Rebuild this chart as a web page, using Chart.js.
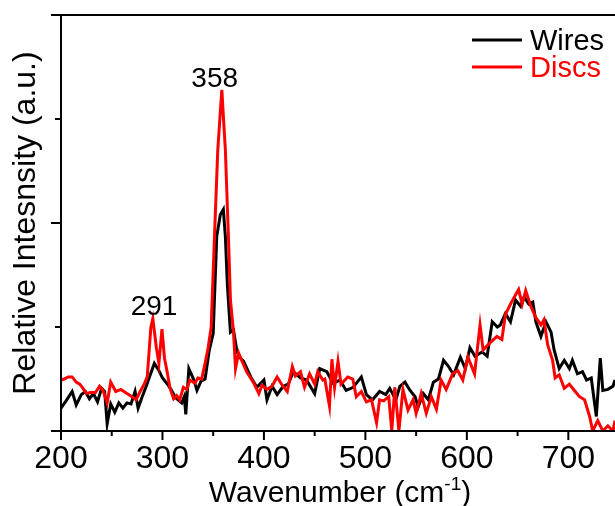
<!DOCTYPE html>
<html>
<head>
<meta charset="utf-8">
<script src="https://cdn.jsdelivr.net/npm/chart.js@4.4.0/dist/chart.umd.min.js"></script>
<style>
  html, body { margin: 0; padding: 0; background: #fff; }
  #chart { display: block; }
</style>
</head>
<body>
<canvas id="chart" width="615" height="506"></canvas>
<script>
// Raman spectra (relative intensity, a.u.)
const wiresX = [200, 205, 211, 215, 220, 224, 228, 232, 236, 240, 243, 245.5, 249, 253, 257, 261, 265, 269, 273, 276,
  280, 284, 288, 292, 296, 300, 305, 309, 313, 319, 321.5, 323, 326, 331, 334, 338, 342, 346, 350, 353.5,
  357, 360, 362, 364, 367, 370, 373.5, 377, 380, 387, 393, 400, 403, 408, 413, 419, 424, 429, 436, 442,
  450, 455, 462, 468, 475, 481, 488, 496, 501, 507, 514, 520, 524, 530, 534, 539, 544, 549, 552, 557,
  562, 567, 572, 577, 582, 587, 593.6, 598.5, 603, 608, 615, 620, 625, 630, 633, 638, 643, 648, 653, 656.5,
  661, 665, 668, 673, 678, 683, 686, 691, 696, 701, 704, 709, 714, 718, 722.6, 727.6, 731.5, 734, 739, 744, 746];
const wiresY = [0.22, 0.29, 0.38, 0.25, 0.35, 0.38, 0.31, 0.36, 0.28, 0.41, 0.38, 0.07, 0.26, 0.18, 0.27, 0.22, 0.27, 0.26, 0.38, 0.22,
  0.33, 0.43, 0.54, 0.65, 0.59, 0.51, 0.45, 0.39, 0.32, 0.27, 0.33, 0.16, 0.6, 0.49, 0.39, 0.48, 0.5, 0.77, 0.94, 1.87,
  2.08, 2.13, 1.87, 1.4, 0.95, 0.97, 0.76, 0.7, 0.67, 0.52, 0.42, 0.49, 0.3, 0.43, 0.35, 0.43, 0.45, 0.57, 0.51, 0.49,
  0.36, 0.6, 0.57, 0.46, 0.49, 0.39, 0.42, 0.52, 0.35, 0.3, 0.38, 0.35, 0.41, 0.3, 0.43, 0.47, 0.39, 0.33, 0.23, 0.36,
  0.3, 0.47, 0.5, 0.68, 0.62, 0.54, 0.71, 0.6, 0.8, 0.72, 0.76, 0.72, 1.05, 1.0, 1.02, 1.13, 1.05, 1.26, 1.2, 1.29,
  1.22, 1.24, 1.05, 0.91, 1.05, 0.95, 0.78, 0.6, 0.68, 0.6, 0.68, 0.55, 0.57, 0.49, 0.51, 0.14, 0.7, 0.39, 0.4, 0.43, 0.49];

const discsX = [200, 203, 207, 211, 215, 218.5, 221, 225, 229, 234, 238, 241.5, 245.5, 249, 254, 259, 265, 270, 274, 278,
  282, 285, 288.6, 290.5, 294, 296.5, 299.5, 302, 304, 307.5, 311, 314, 317, 320.6, 324, 327, 332, 335, 338.6, 342,
  345, 348, 351, 354.5, 358.5, 362, 365, 367, 370, 372, 375, 378, 383, 390, 395, 398, 403, 408, 413, 418,
  423, 428, 431, 436, 440, 445, 450, 453, 458, 460, 464.6, 467, 469.6, 473, 476, 482.6, 487.6, 491, 496, 501,
  506, 511, 514, 518, 523, 526, 529, 533, 537, 542, 547, 550, 555, 560, 565, 570, 574.6, 579.6, 586, 591,
  596, 601, 607.6, 613, 616, 623, 629.6, 634.5, 638, 643, 648, 651, 654.5, 658, 663, 668, 673, 676, 679.6, 684.5,
  687, 691, 696, 701, 706, 711, 716, 721, 724, 729, 734, 739, 744, 746];
const discsY = [0.49, 0.5, 0.52, 0.52, 0.47, 0.45, 0.42, 0.36, 0.37, 0.37, 0.43, 0.39, 0.27, 0.47, 0.38, 0.4, 0.36, 0.33, 0.3, 0.38,
  0.45, 0.52, 1.0, 1.08, 0.8, 0.65, 0.98, 0.7, 0.6, 0.41, 0.31, 0.34, 0.3, 0.42, 0.4, 0.49, 0.46, 0.51, 0.5, 0.65,
  0.8, 1.0, 1.8, 2.7, 3.28, 2.7, 1.87, 1.26, 0.95, 0.6, 0.75, 0.68, 0.57, 0.46, 0.36, 0.44, 0.4, 0.43, 0.52, 0.44,
  0.38, 0.62, 0.53, 0.57, 0.42, 0.55, 0.45, 0.57, 0.49, 0.5, 0.24, 0.69, 0.42, 0.67, 0.45, 0.52, 0.5, 0.33, 0.38, 0.28,
  0.3, 0.08, 0.3, 0.29, 0.33, 0.0, 0.42, 0.0, 0.4, 0.2, 0.3, 0.17, 0.36, 0.17, 0.33, 0.21, 0.49, 0.4, 0.55, 0.58,
  0.49, 0.71, 0.55, 1.02, 0.78, 0.85, 0.91, 0.88, 1.12, 1.22, 1.31, 1.36, 1.22, 1.35, 1.2, 1.09, 1.02, 1.07, 0.83, 0.68,
  0.51, 0.54, 0.41, 0.45, 0.39, 0.33, 0.3, 0.14, 0.0, 0.1, 0.0, 0.05, 0.0, 0.1];

const xMajorTicks = [200, 300, 400, 500, 600, 700];
const xMinorTicks = [250, 350, 450, 550, 650];
const yMajorTicks = [0, 2, 4];
const yMinorTicks = [1, 3];

const peakLabels = ["291", "358"];
const peakX = [291.7, 351.5];
const peakY = [1.12, 3.31];

const FONT = "'Liberation Sans', Arial, sans-serif";

function toPoints(xs, ys) {
  return xs.map((x, i) => ({ x: x, y: ys[i] }));
}

// axis frame, tick marks, axis titles, legend and peak labels
const decorPlugin = {
  id: "decor",
  afterDraw(chart) {
    const ctx = chart.ctx;
    const area = chart.chartArea;
    const xs = chart.scales.x;
    const ys = chart.scales.y;
    ctx.save();
    ctx.strokeStyle = "#000";
    ctx.lineWidth = 2;
    ctx.beginPath();
    ctx.moveTo(area.left, area.top);
    ctx.lineTo(area.left, area.bottom);
    yMajorTicks.forEach((v) => {
      const py = ys.getPixelForValue(v);
      ctx.moveTo(area.left - 10, py);
      ctx.lineTo(v === 0 || v === 4 ? area.right : area.left, py);
    });
    yMinorTicks.forEach((v) => {
      const py = ys.getPixelForValue(v);
      ctx.moveTo(area.left - 6, py);
      ctx.lineTo(area.left, py);
    });
    xMajorTicks.forEach((v) => {
      const px = xs.getPixelForValue(v);
      ctx.moveTo(px, area.bottom);
      ctx.lineTo(px, area.bottom + 9);
    });
    xMinorTicks.forEach((v) => {
      const px = xs.getPixelForValue(v);
      ctx.moveTo(px, area.bottom);
      ctx.lineTo(px, area.bottom + 5);
    });
    ctx.stroke();

    ctx.fillStyle = "#000";
    // y title
    ctx.save();
    ctx.translate(35, 223);
    ctx.rotate(-Math.PI / 2);
    ctx.font = "32px " + FONT;
    ctx.textAlign = "center";
    ctx.textBaseline = "alphabetic";
    ctx.fillText("Relative Intesnsity (a.u.)", 0, 0);
    ctx.restore();

    // x title with superscript
    const main = "Wavenumber (cm";
    const sup = "-1";
    const tail = ")";
    ctx.textAlign = "left";
    ctx.textBaseline = "alphabetic";
    ctx.font = "30px " + FONT;
    const wMain = ctx.measureText(main).width;
    const wTail = ctx.measureText(tail).width;
    ctx.font = "19px " + FONT;
    const wSup = ctx.measureText(sup).width;
    let tx = 340 - (wMain + wSup + wTail) / 2;
    const base = 502;
    ctx.font = "30px " + FONT;
    ctx.fillText(main, tx, base);
    tx += wMain;
    ctx.font = "19px " + FONT;
    ctx.fillText(sup, tx, base - 12);
    tx += wSup;
    ctx.font = "30px " + FONT;
    ctx.fillText(tail, tx, base);

    // legend
    chart.data.datasets.forEach((ds, i) => {
      const ly = 40 + i * 27;
      ctx.strokeStyle = ds.borderColor;
      ctx.lineWidth = 3;
      ctx.beginPath();
      ctx.moveTo(472, ly);
      ctx.lineTo(522, ly);
      ctx.stroke();
      ctx.fillStyle = ds.borderColor;
      ctx.font = "29px " + FONT;
      ctx.fillText(ds.label, 530, ly + 10);
    });

    // peak labels
    ctx.fillStyle = "#000";
    ctx.font = "28px " + FONT;
    ctx.textAlign = "center";
    peakLabels.forEach((t, i) => {
      ctx.fillText(t, xs.getPixelForValue(peakX[i]), ys.getPixelForValue(peakY[i]));
    });
    ctx.restore();
  },
};

new Chart(document.getElementById("chart"), {
  type: "line",
  data: {
    datasets: [
      {
        label: "Wires",
        data: toPoints(wiresX, wiresY),
        borderColor: "#000000",
        borderWidth: 3,
        pointRadius: 0,
        tension: 0,
        order: 1,
      },
      {
        label: "Discs",
        data: toPoints(discsX, discsY),
        borderColor: "#ff0000",
        borderWidth: 3,
        pointRadius: 0,
        tension: 0,
        order: 0,
      },
    ],
  },
  options: {
    responsive: false,
    animation: false,
    devicePixelRatio: 1,
    layout: { padding: { left: 61, top: 15, right: 0, bottom: 34 } },
    plugins: {
      legend: { display: false },
      tooltip: { enabled: false },
    },
    scales: {
      x: {
        type: "linear",
        min: 200,
        max: 746,
        grid: { display: false },
        border: { display: false },
        ticks: {
          stepSize: 100,
          includeBounds: false,
          color: "#000",
          padding: 1,
          maxRotation: 0,
          font: { family: FONT, size: 32 },
        },
        afterFit(scale) {
          scale.height = 41;
        },
      },
      y: {
        display: false,
        min: 0,
        max: 4,
      },
    },
  },
  plugins: [decorPlugin],
});
</script>
</body>
</html>
